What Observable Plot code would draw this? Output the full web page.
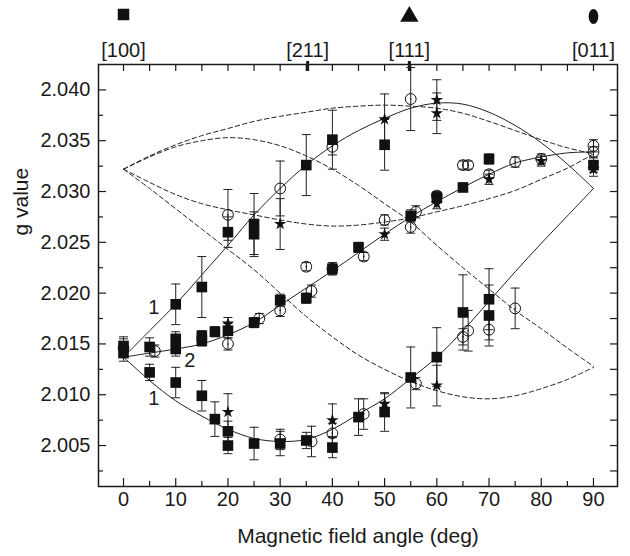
<!DOCTYPE html>
<html><head><meta charset="utf-8">
<script src="https://cdn.jsdelivr.net/npm/d3@7"></script>
<script src="https://cdn.jsdelivr.net/npm/@observablehq/plot@0.6"></script>
<style>body{margin:0;background:#fff}#chart svg{display:block}</style>
</head><body><div id="chart"></div>
<script>
// ---- data ----
const angleGrid = [0,5,10,15,20,25,30,35,40,45,50,55,60,65,70,75,80,85,90];
const solid1Upper = [2.0137,2.0163,2.0189,2.0218,2.0247,2.0277,2.0303,2.0326,2.0345,2.0360,2.0372,2.0382,2.0387,2.0386,2.0378,2.0365,2.0348,2.0327,2.0303];
const solid1Lower = [2.0137,2.0114,2.0094,2.0079,2.0066,2.0057,2.0054,2.0056,2.0066,2.0081,2.0096,2.0116,2.0137,2.0163,2.0192,2.0221,2.0249,2.0276,2.0303];
const solid2 = [2.0137,2.0141,2.0145,2.0150,2.0159,2.0171,2.0188,2.0205,2.0222,2.0240,2.0258,2.0275,2.0290,2.0304,2.0317,2.0328,2.0334,2.0338,2.0339];
const dashA = [2.0322,2.0335,2.0346,2.0355,2.0362,2.0369,2.0374,2.0378,2.0382,2.0384,2.0385,2.0384,2.0382,2.0377,2.0369,2.0360,2.0351,2.0343,2.0337];
const dashB = [2.0322,2.0309,2.0297,2.0288,2.0282,2.0277,2.0272,2.0268,2.0266,2.0267,2.0270,2.0274,2.0280,2.0286,2.0293,2.0301,2.0312,2.0323,2.0337];
const dashC = [2.0322,2.0334,2.0344,2.0350,2.0353,2.0351,2.0345,2.0335,2.0322,2.0306,2.0288,2.0270,2.0247,2.0225,2.0204,2.0183,2.0165,2.0146,2.0128];
const dashD = [2.0322,2.0303,2.0283,2.0263,2.0243,2.0223,2.0200,2.0177,2.0157,2.0139,2.0125,2.0113,2.0104,2.0098,2.0096,2.0099,2.0106,2.0115,2.0127];

// [angle, g, error]
const squares = [
  [0,2.0148,0.0009],[0,2.0141,0.0008],
  [5,2.0147,0.0009],[5,2.0122,0.0008],
  [10,2.0189,0.0020],[10,2.0155,0.0007],[10,2.0145,0.0007],[10,2.0112,0.0015],
  [15,2.0206,0.0030],[15,2.0158,0.0005],[15,2.0153,0.0005],[15,2.0099,0.0015],
  [17.5,2.0162,0.0005],[17.5,2.0076,0.0017],
  [20,2.0260,0.0015],[20,2.0163,0.0007],[20,2.0064,0.0010],[20,2.0050,0.0008],
  [25,2.0268,0.0030],[25,2.0258,0.0022],[25,2.0171,0.0005],[25,2.0052,0.0016],
  [30,2.0193,0.0006],[30,2.0052,0.0012],
  [35,2.0326,0.0030],[35,2.0195,0.0005],[35,2.0055,0.0008],
  [40,2.0351,0.0029],[40,2.0224,0.0006],[40,2.0048,0.0010],
  [45,2.0245,0.0005],[45,2.0078,0.0018],
  [50,2.0346,0.0025],[50,2.0083,0.0019],
  [55,2.0276,0.0006],[55,2.0117,0.0030],
  [60,2.0294,0.0005],[60,2.0137,0.0029],
  [65,2.0304,0.0004],[65,2.0181,0.0037],
  [70,2.0332,0.0005],[70,2.0194,0.0030],[70,2.0178,0.0030],
  [90,2.0326,0.0007]
];
const circles = [
  [0,2.0146,0.0009],[6,2.0143,0.0006],
  [20,2.0277,0.0025],[20,2.0150,0.0006],
  [26,2.0175,0.0005],
  [30,2.0303,0.0027],[30,2.0183,0.0006],[30,2.0056,0.0010],
  [35,2.0226,0.0004],[36,2.0202,0.0006],[36,2.0054,0.0015],
  [40,2.0344,0.0008],[40,2.0224,0.0006],[40,2.0062,0.0010],
  [46,2.0236,0.0004],[46,2.0081,0.0015],
  [50,2.0272,0.0005],
  [55,2.0391,0.0031],[56,2.0280,0.0006],[55,2.0265,0.0006],[56,2.0111,0.0006],
  [60,2.0296,0.0004],
  [65,2.0326,0.0004],[66,2.0326,0.0004],[65,2.0157,0.0008],[66,2.0163,0.0020],
  [70,2.0317,0.0004],[70,2.0164,0.0010],
  [75,2.0329,0.0005],[75,2.0185,0.0020],
  [80,2.0332,0.0005],
  [90,2.0345,0.0006],[90,2.0339,0.0005]
];
const stars = [
  [20,2.0170,0.0006],[20,2.0083,0.0018],
  [30,2.0268,0.0025],
  [40,2.0075,0.0016],
  [50,2.0371,0.0025],[50,2.0258,0.0006],[50,2.0091,0.0010],
  [60,2.0390,0.0020],[60,2.0377,0.0020],[60,2.0288,0.0005],[60,2.0109,0.0020],
  [70,2.0312,0.0005],
  [80,2.0330,0.0005],
  [90,2.0322,0.0007]
];

const xMajorTicks = [0,10,20,30,40,50,60,70,80,90];
const xMinorTicks = [5,15,25,35,45,55,65,75,85];
const topTicks = [0,5,10,15,20,25,30,35,40,45,50,55,60,65,70,75,80,85,90];
const yMajorTicks = [2.005,2.010,2.015,2.020,2.025,2.030,2.035,2.040];
const yMinorTicks = [2.0025,2.0075,2.0125,2.0175,2.0225,2.0275,2.0325,2.0375];
const yRightTicks = [2.0025,2.005,2.0075,2.010,2.0125,2.015,2.0175,2.020,2.0225,2.025,2.0275,2.030,2.0325,2.035,2.0375,2.040];
const orientLabels = ["[100]","[211]","[111]","[011]"];
const orientAngles = [0,35.26,54.74,90];
const curveLabels = ["1","2","1"];
const curveLabelAngles = [5.8,12.7,5.8];
const curveLabelG = [2.0186,2.0134,2.0096];

// ---- build ----
const W=630,H=556,mL=98,mR=13,mT=64,mB=70;
const pw=W-mL-mR, ph=H-mT-mB;
const rows = arr => arr.map(([a,g,e]) => ({a,g,e}));
const sq = rows(squares), ci = rows(circles), st = rows(stars);
const allPts = [...sq,...ci,...st];
const curveRows = (name, vals) => vals.map((g,i) => ({name, a: angleGrid[i], g}));
const solidRows = [...curveRows("s1u",solid1Upper),...curveRows("s1l",solid1Lower),...curveRows("s2",solid2)];
const dashRows = [...curveRows("da",dashA),...curveRows("db",dashB),...curveRows("dc",dashC),...curveRows("dd",dashD)];
const orient = orientLabels.map((label,i) => ({label, a: orientAngles[i]}));
const clabels = curveLabels.map((t,i) => ({t, a: curveLabelAngles[i], g: curveLabelG[i]}));

const capSymbol = {draw(ctx){ const w=4.5; ctx.moveTo(-w,0); ctx.lineTo(w,0); }};
const ellipseSymbol = {draw(ctx){
  const rx=4.8, ry=7.5, k=0.5523;
  ctx.moveTo(0,-ry);
  ctx.bezierCurveTo(k*rx,-ry,rx,-k*ry,rx,0);
  ctx.bezierCurveTo(rx,k*ry,k*rx,ry,0,ry);
  ctx.bezierCurveTo(-k*rx,ry,-rx,k*ry,-rx,0);
  ctx.bezierCurveTo(-rx,-k*ry,-k*rx,-ry,0,-ry);
  ctx.closePath();
}};

const font = "Liberation Sans, Arial, Helvetica, sans-serif";
const chart = Plot.plot({
  width: W, height: H,
  marginLeft: mL, marginRight: mR, marginTop: mT, marginBottom: mB,
  style: {fontFamily: font, fontSize: "20px", background: "#fff", color: "#1a1a1a"},
  x: {domain: [-4.79, 94.6], axis: null},
  y: {domain: [2.00097, 2.0425], axis: null},
  marks: [
    // curves
    Plot.line(dashRows, {x: "a", y: "g", z: "name", stroke: "#222", strokeWidth: 1, strokeDasharray: "4.5,3", curve: "catmull-rom"}),
    Plot.line(solidRows, {x: "a", y: "g", z: "name", stroke: "#222", strokeWidth: 1, curve: "catmull-rom"}),
    // error bars
    Plot.ruleX(allPts, {x: "a", y1: d => d.g - d.e, y2: d => d.g + d.e, stroke: "#222", strokeWidth: 1}),
    Plot.dot(allPts, {x: "a", y: d => d.g + d.e, symbol: capSymbol, stroke: "#222", fill: "none", strokeWidth: 1}),
    Plot.dot(allPts, {x: "a", y: d => d.g - d.e, symbol: capSymbol, stroke: "#222", fill: "none", strokeWidth: 1}),
    // markers
    Plot.dot(sq, {x: "a", y: "g", symbol: "square", r: 6, fill: "#111", stroke: "none"}),
    Plot.dot(ci, {x: "a", y: "g", symbol: "circle", r: 5.4, fill: "none", stroke: "#111", strokeWidth: 1}),
    Plot.dot(ci, {x: "a", y: "g", r: 0.8, fill: "#111"}),
    Plot.dot(st, {x: "a", y: "g", symbol: "star", r: 3.9, fill: "#111", stroke: "none"}),
    // curve labels
    Plot.text(clabels, {x: "a", y: "g", text: "t", fontSize: 20, fill: "#1a1a1a"}),
    // frame
    Plot.frame({stroke: "#1a1a1a", strokeWidth: 1.5}),
    // bottom ticks (inward)
    Plot.tickX(xMajorTicks, {x: d => d, insetTop: ph - 8, stroke: "#1a1a1a", strokeWidth: 1.2}),
    Plot.tickX(xMinorTicks, {x: d => d, insetTop: ph - 5, stroke: "#1a1a1a", strokeWidth: 1.2}),
    // top ticks (inward)
    Plot.tickX(topTicks, {x: d => d, insetBottom: ph - 7, stroke: "#1a1a1a", strokeWidth: 1.2}),
    Plot.tickX(orientAngles.slice(1, 3), {x: d => d, insetTop: -3, insetBottom: ph - 7, stroke: "#1a1a1a", strokeWidth: 3}),
    // left ticks
    Plot.tickY(yMajorTicks, {y: d => d, insetRight: pw - 8, stroke: "#1a1a1a", strokeWidth: 1.2}),
    Plot.tickY(yMinorTicks, {y: d => d, insetRight: pw - 5, stroke: "#1a1a1a", strokeWidth: 1.2}),
    // right ticks
    Plot.tickY(yRightTicks, {y: d => d, insetLeft: pw - 7, stroke: "#1a1a1a", strokeWidth: 1.2}),
    // tick labels
    Plot.text(xMajorTicks, {x: d => d, text: d => String(d), frameAnchor: "bottom", dy: 19, fontSize: 20, fill: "#1a1a1a"}),
    Plot.text(yMajorTicks, {y: d => d, text: d => d.toFixed(3), frameAnchor: "left", dx: -8, textAnchor: "end", fontSize: 20, fill: "#1a1a1a"}),
    // axis titles
    Plot.text(["Magnetic field angle (deg)"], {frameAnchor: "bottom", dy: 56, fontSize: 21, fill: "#1a1a1a"}),
    Plot.text(["g value"], {frameAnchor: "left", dx: -77, dy: -40, rotate: -90, fontSize: 21, fill: "#1a1a1a"}),
    // crystal orientations on top
    Plot.text(orient, {x: "a", text: "label", frameAnchor: "top", dy: -22, fontSize: 20, fill: "#1a1a1a"}),
    Plot.dot(orient.filter(d => d.label === "[100]"), {x: "a", frameAnchor: "top", dy: -50, symbol: "square", r: 6.5, fill: "#111"}),
    Plot.dot(orient.filter(d => d.label === "[111]"), {x: "a", frameAnchor: "top", dy: -48, symbol: "triangle", r: 6.8, fill: "#111"}),
    Plot.dot(orient.filter(d => d.label === "[011]"), {x: "a", frameAnchor: "top", dy: -48, symbol: ellipseSymbol, fill: "#111"})
  ]
});
document.getElementById("chart").appendChild(chart);
</script>
</body></html>
